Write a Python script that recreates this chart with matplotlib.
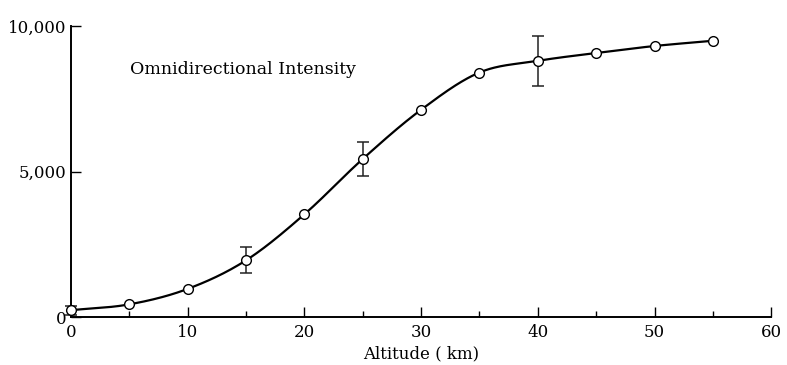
import numpy as np
import matplotlib
matplotlib.use("Agg")
from matplotlib import pyplot as plt

altitude = [0, 5, 10, 15, 20, 25, 30, 35, 40, 45, 50, 55]
intensity = [240, 440, 970, 1950, 3530, 5430, 7120, 8400, 8800, 9070, 9310, 9490]
err_x = [0, 15, 25, 40]
err_y = [240, 1950, 5430, 8800]
err_size = [160, 450, 580, 860]


def catmull_rom(xs, ys, n=40):
    pts = np.column_stack([xs, ys]).astype(float)
    # pad ends so the curve reaches the first and last point
    pts = np.vstack([2 * pts[0] - pts[1], pts, 2 * pts[-1] - pts[-2]])
    out = []
    t = np.linspace(0, 1, n)[:, None]
    for i in range(1, len(pts) - 2):
        p0, p1, p2, p3 = pts[i - 1], pts[i], pts[i + 1], pts[i + 2]
        seg = 0.5 * ((2 * p1) + (-p0 + p2) * t
                     + (2 * p0 - 5 * p1 + 4 * p2 - p3) * t**2
                     + (-p0 + 3 * p1 - 3 * p2 + p3) * t**3)
        out.append(seg)
    out = np.vstack(out)
    return out[:, 0], out[:, 1]


plt.rcParams['font.family'] = ['DejaVu Serif']
fig = plt.figure(figsize=(7.87, 3.65), dpi=100)
ax = fig.add_axes([0.090, 0.131, 0.890, 0.798])

cx, cy = catmull_rom(altitude, intensity)
ax.plot(cx, cy, color='black', lw=1.6, clip_on=False, zorder=2)
ax.errorbar(err_x, err_y, yerr=err_size, fmt='none', ecolor='#222222',
            elinewidth=1.1, capsize=4, capthick=1.1, clip_on=False, zorder=3)
ax.plot(altitude, intensity, 'o', ms=7, mfc='white', mec='black', mew=1.0,
        clip_on=False, zorder=4)

ax.set_xlim(0, 60)
ax.set_ylim(0, 10000)
for s in ['top', 'right']:
    ax.spines[s].set_visible(False)
ax.spines['left'].set_linewidth(1.4)
ax.spines['bottom'].set_linewidth(1.4)

ax.set_xticks([0, 10, 20, 30, 40, 50, 60])
ax.set_xticks([5, 15, 25, 35, 45, 55], minor=True)
ax.set_yticks([0, 5000, 10000])
ax.set_yticklabels(['0', '5,000', '10,000'])
ax.tick_params(axis='x', direction='in', length=7, width=1.0, pad=5, labelsize=12)
ax.tick_params(axis='x', which='minor', direction='in', length=4, width=1.0)
ax.tick_params(axis='y', direction='in', length=7, width=1.0, pad=3, labelsize=12)

ax.text(5.1, 8500, 'Omnidirectional Intensity', fontsize=12.5, va='center', ha='left')
ax.set_xlabel('Altitude ( km)', fontsize=12, labelpad=3)

fig.savefig('out.png', dpi=100)
